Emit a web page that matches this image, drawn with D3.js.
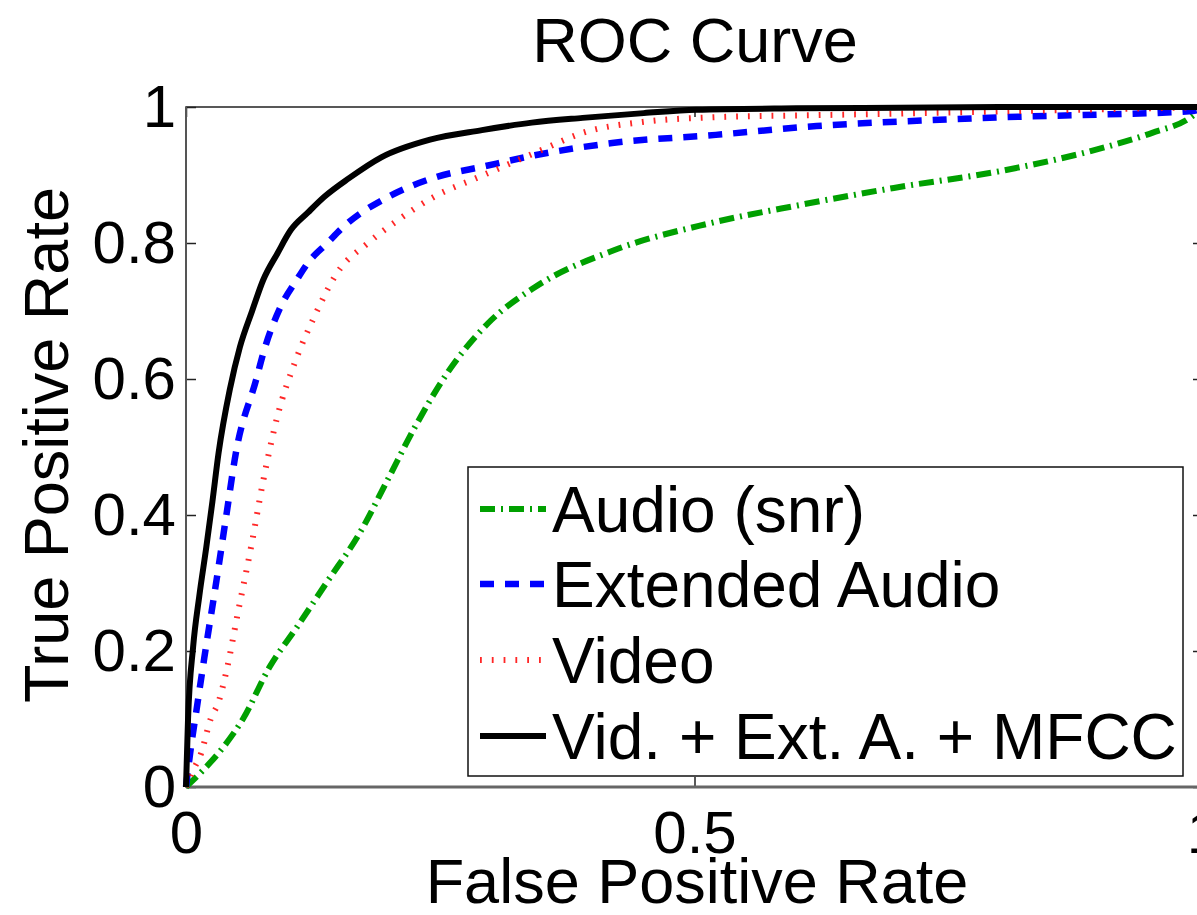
<!DOCTYPE html>
<html>
<head>
<meta charset="utf-8">
<script src="https://cdn.jsdelivr.net/npm/d3@7"></script>
<style>
  body { margin: 0; background: #fff; }
  svg { display: block; font-family: "Liberation Sans", Arial, Helvetica, sans-serif; }
</style>
</head>
<body>
<svg width="1197" height="915"></svg>
<script>
// values
var xTicks = [0, 0.5, 1];
var yTicks = [0, 0.2, 0.4, 0.6, 0.8, 1];
var xTickLabels = ["0", "0.5", "1"];
var yTickLabels = ["0", "0.2", "0.4", "0.6", "0.8", "1"];

var seriesNames = ["Audio (snr)", "Extended Audio", "Video", "Vid. + Ext. A. + MFCC"];

var audioFpr = [0, 0.017, 0.040, 0.056, 0.082, 0.109, 0.138, 0.171, 0.198, 0.225, 0.257, 0.297, 0.343, 0.422, 0.515, 0.604, 0.696, 0.805, 0.904, 0.950, 0.988, 1.0];
var audioTpr = [0, 0.025, 0.065, 0.100, 0.176, 0.235, 0.300, 0.374, 0.451, 0.529, 0.609, 0.682, 0.735, 0.790, 0.829, 0.856, 0.881, 0.907, 0.941, 0.962, 0.985, 1.0];

var extFpr = [0, 0.005, 0.010, 0.018, 0.030, 0.040, 0.049, 0.069, 0.076, 0.093, 0.109, 0.120, 0.139, 0.155, 0.199, 0.244, 0.294, 0.343, 0.419, 0.521, 0.620, 0.723, 0.805, 0.900, 0.990, 1.0];
var extTpr = [0, 0.060, 0.110, 0.190, 0.304, 0.403, 0.491, 0.599, 0.638, 0.706, 0.746, 0.771, 0.800, 0.824, 0.868, 0.896, 0.913, 0.929, 0.947, 0.959, 0.972, 0.980, 0.985, 0.989, 0.994, 1.0];

var videoFpr = [0, 0.006, 0.015, 0.024, 0.032, 0.040, 0.051, 0.064, 0.076, 0.089, 0.109, 0.126, 0.149, 0.179, 0.205, 0.244, 0.288, 0.350, 0.390, 0.449, 0.521, 0.620, 0.720, 0.850, 1.0];
var videoTpr = [0, 0.022, 0.050, 0.099, 0.125, 0.172, 0.256, 0.353, 0.451, 0.540, 0.632, 0.691, 0.757, 0.800, 0.830, 0.868, 0.897, 0.937, 0.962, 0.978, 0.985, 0.988, 0.991, 0.995, 1.0];

var fusedFpr = [0, 0.002, 0.007, 0.013, 0.020, 0.026, 0.032, 0.043, 0.053, 0.065, 0.076, 0.090, 0.103, 0.120, 0.136, 0.160, 0.192, 0.240, 0.291, 0.340, 0.390, 0.450, 0.502, 0.600, 0.700, 0.800, 1.0];
var fusedTpr = [0, 0.100, 0.206, 0.280, 0.353, 0.420, 0.491, 0.584, 0.647, 0.700, 0.746, 0.785, 0.819, 0.845, 0.868, 0.895, 0.926, 0.952, 0.966, 0.977, 0.984, 0.991, 0.996, 0.998, 0.999, 1.0, 1.0];

var svg = d3.select("svg");

var plotLeft = 186, plotRight = 1203, plotTop = 107, plotBottom = 787;

var x = d3.scaleLinear().domain([0, 1]).range([plotLeft, plotRight]);
var y = d3.scaleLinear().domain([0, 1]).range([plotBottom, plotTop]);

var series = [
    { name: seriesNames[0], fpr: audioFpr, tpr: audioTpr, color: "#00a000", width: 6, dash: "15 6 2 6" },
    { name: seriesNames[1], fpr: extFpr, tpr: extTpr, color: "#0000ff", width: 6.5, dash: "14 11" },
    { name: seriesNames[2], fpr: videoFpr, tpr: videoTpr, color: "#ff1010", width: 6, dash: "1.8 10", opacity: 0.9 },
    { name: seriesNames[3], fpr: fusedFpr, tpr: fusedTpr, color: "#000000", width: 6, dash: null }
];

// title
svg.append("text")
    .attr("x", 695)
    .attr("y", 62)
    .attr("text-anchor", "middle")
    .attr("font-size", "63px")
    .text("ROC Curve");

// axes, ticks pointing inward like matlab
svg.append("g")
    .attr("transform", "translate(0," + plotBottom + ")")
    .call(d3.axisBottom(x).tickValues(xTicks).tickSizeInner(-10).tickSizeOuter(0).tickPadding(23)
        .tickFormat(function(d, i) { return xTickLabels[i]; }));

svg.append("g")
    .attr("transform", "translate(" + plotLeft + ",0)")
    .call(d3.axisLeft(y).tickValues(yTicks).tickSizeInner(-10).tickSizeOuter(0).tickPadding(10)
        .tickFormat(function(d, i) { return yTickLabels[i]; }));

svg.append("g")
    .attr("transform", "translate(0," + plotTop + ")")
    .call(d3.axisTop(x).tickValues(xTicks).tickSizeInner(-10).tickSizeOuter(0).tickFormat(""));

svg.append("g")
    .attr("transform", "translate(" + plotRight + ",0)")
    .call(d3.axisRight(y).tickValues(yTicks).tickSizeInner(-10).tickSizeOuter(0).tickFormat(""));

svg.selectAll(".domain").remove();
svg.selectAll(".tick line").attr("stroke", "#222").attr("stroke-width", 1.5);
svg.selectAll(".tick text")
    .attr("font-family", "Liberation Sans, Arial, sans-serif")
    .attr("font-size", "60px")
    .attr("fill", "#000");

// frame
svg.append("rect")
    .attr("x", plotLeft)
    .attr("y", plotTop)
    .attr("width", plotRight - plotLeft)
    .attr("height", plotBottom - plotTop)
    .attr("fill", "none")
    .attr("stroke", "#222")
    .attr("stroke-width", 1.5);

svg.append("line")
    .attr("x1", plotLeft).attr("x2", plotRight)
    .attr("y1", plotBottom).attr("y2", plotBottom)
    .attr("stroke", "#666")
    .attr("stroke-width", 3);

svg.append("line")
    .attr("x1", plotLeft).attr("x2", plotLeft)
    .attr("y1", plotTop).attr("y2", plotBottom)
    .attr("stroke", "#555")
    .attr("stroke-width", 2);

// axis labels
svg.append("text")
    .attr("x", 697)
    .attr("y", 903)
    .attr("text-anchor", "middle")
    .attr("font-size", "63px")
    .text("False Positive Rate");

svg.append("text")
    .attr("transform", "translate(68,445) rotate(-90)")
    .attr("text-anchor", "middle")
    .attr("font-size", "63px")
    .text("True Positive Rate");

// curves
svg.append("clipPath")
    .attr("id", "plot-clip")
    .append("rect")
    .attr("x", plotLeft - 4).attr("y", plotTop - 4)
    .attr("width", plotRight - plotLeft + 8).attr("height", plotBottom - plotTop + 8);

var line = d3.line()
    .x(function(d) { return x(d[0]); })
    .y(function(d) { return y(d[1]); })
    .curve(d3.curveMonotoneX);

var curves = svg.append("g").attr("clip-path", "url(#plot-clip)");

series.forEach(function(s) {
    var pts = s.fpr.map(function(f, i) { return [f, s.tpr[i]]; });
    curves.append("path")
        .datum(pts)
        .attr("d", line)
        .attr("fill", "none")
        .attr("stroke", s.color)
        .attr("stroke-width", s.width)
        .attr("stroke-opacity", s.opacity || 1)
        .attr("stroke-dasharray", s.dash)
        .attr("stroke-linejoin", "round");
});

// legend
var legend = svg.append("g");

legend.append("rect")
    .attr("x", 468)
    .attr("y", 467)
    .attr("width", 715)
    .attr("height", 309)
    .attr("fill", "#fff")
    .attr("stroke", "#111")
    .attr("stroke-width", 1.5);

var rowY = [509, 584, 660, 736];

series.forEach(function(s, i) {
    legend.append("line")
        .attr("x1", 480).attr("x2", 546)
        .attr("y1", rowY[i]).attr("y2", rowY[i])
        .attr("stroke", s.color)
        .attr("stroke-width", s.width)
        .attr("stroke-opacity", s.opacity || 1)
        .attr("stroke-dasharray", s.dash);
    legend.append("text")
        .attr("x", 552)
        .attr("y", rowY[i] + 23)
        .attr("font-size", "64px")
        .text(s.name);
});
</script>
</body>
</html>
